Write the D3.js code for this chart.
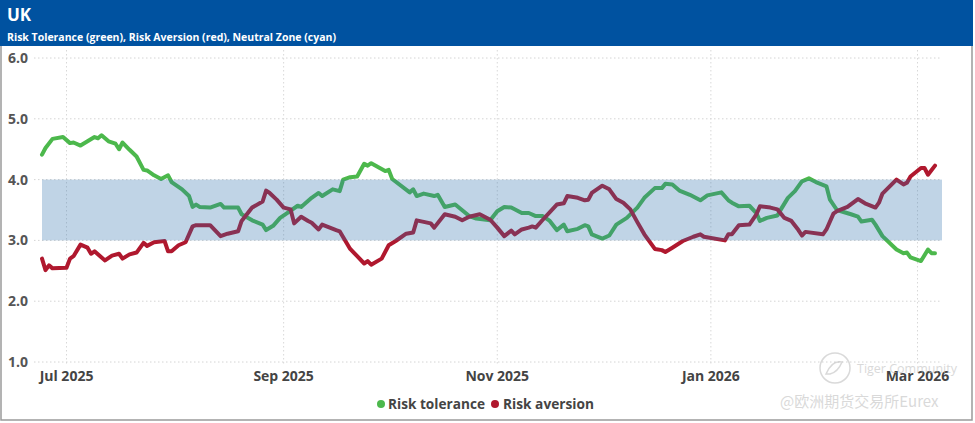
<!DOCTYPE html>
<html><head><meta charset="utf-8">
<script src="https://cdn.jsdelivr.net/npm/d3@7"></script>
<style>
html,body{margin:0;padding:0;background:#fff;}
svg{display:block;font-family:"Open Sans","Noto Sans",sans-serif;}
</style></head>
<body><svg id="c" width="975" height="423"></svg>
<script>
const title = "UK";
const subtitle = "Risk Tolerance (green), Risk Aversion (red), Neutral Zone (cyan)";
const yTicks = [1.0, 2.0, 3.0, 4.0, 5.0, 6.0];
const xTickDates = ["2025-07-01","2025-09-01","2025-11-01","2026-01-01","2026-03-01"];
const xTickLabels = ["Jul 2025","Sep 2025","Nov 2025","Jan 2026","Mar 2026"];
const neutralZone = [3.0, 4.0];
const xDomain = ["2025-06-24","2026-03-08"];
const seriesNames = ["Risk tolerance","Risk aversion"];

const toleranceDates = ["2025-06-24","2025-06-25","2025-06-27","2025-06-30","2025-07-02","2025-07-03","2025-07-05","2025-07-07","2025-07-09","2025-07-10","2025-07-11","2025-07-13","2025-07-15","2025-07-16","2025-07-17","2025-07-19","2025-07-21","2025-07-23","2025-07-24","2025-07-26","2025-07-28","2025-07-30","2025-07-31","2025-08-03","2025-08-05","2025-08-06","2025-08-07","2025-08-08","2025-08-11","2025-08-14","2025-08-15","2025-08-19","2025-08-20","2025-08-23","2025-08-26","2025-08-27","2025-08-29","2025-08-31","2025-09-02","2025-09-05","2025-09-06","2025-09-09","2025-09-11","2025-09-12","2025-09-15","2025-09-17","2025-09-18","2025-09-20","2025-09-22","2025-09-24","2025-09-25","2025-09-26","2025-09-30","2025-10-01","2025-10-02","2025-10-07","2025-10-08","2025-10-09","2025-10-11","2025-10-14","2025-10-15","2025-10-17","2025-10-20","2025-10-24","2025-10-26","2025-10-30","2025-11-01","2025-11-03","2025-11-05","2025-11-08","2025-11-10","2025-11-12","2025-11-14","2025-11-16","2025-11-18","2025-11-20","2025-11-21","2025-11-24","2025-11-26","2025-11-27","2025-11-28","2025-12-01","2025-12-03","2025-12-05","2025-12-08","2025-12-11","2025-12-13","2025-12-16","2025-12-18","2025-12-19","2025-12-21","2025-12-23","2025-12-26","2025-12-29","2025-12-31","2026-01-04","2026-01-06","2026-01-07","2026-01-09","2026-01-12","2026-01-14","2026-01-15","2026-01-17","2026-01-20","2026-01-21","2026-01-23","2026-01-25","2026-01-27","2026-01-29","2026-01-31","2026-02-03","2026-02-04","2026-02-06","2026-02-10","2026-02-12","2026-02-13","2026-02-16","2026-02-17","2026-02-19","2026-02-23","2026-02-25","2026-02-26","2026-02-27","2026-03-02","2026-03-04","2026-03-05","2026-03-06"];
const toleranceValues = [4.41,4.52,4.67,4.70,4.60,4.61,4.56,4.63,4.70,4.68,4.73,4.63,4.59,4.50,4.61,4.49,4.38,4.16,4.15,4.07,4.01,4.07,3.96,3.84,3.73,3.55,3.59,3.55,3.54,3.60,3.54,3.54,3.43,3.33,3.26,3.17,3.24,3.37,3.45,3.57,3.55,3.70,3.78,3.73,3.84,3.81,4.00,4.04,4.05,4.26,4.23,4.27,4.14,4.16,4.01,3.79,3.84,3.73,3.77,3.73,3.75,3.55,3.59,3.40,3.36,3.33,3.48,3.55,3.54,3.45,3.45,3.40,3.40,3.32,3.17,3.26,3.15,3.19,3.25,3.23,3.10,3.03,3.08,3.26,3.37,3.54,3.70,3.86,3.86,3.93,3.92,3.82,3.75,3.66,3.74,3.79,3.66,3.62,3.56,3.57,3.45,3.32,3.37,3.41,3.51,3.70,3.81,3.97,4.02,3.96,3.89,3.67,3.50,3.43,3.39,3.31,3.34,3.26,3.07,2.85,2.79,2.80,2.72,2.66,2.85,2.79,2.79];

const aversionDates = ["2025-06-24","2025-06-25","2025-06-26","2025-06-27","2025-07-01","2025-07-02","2025-07-03","2025-07-05","2025-07-07","2025-07-08","2025-07-09","2025-07-12","2025-07-14","2025-07-16","2025-07-17","2025-07-19","2025-07-21","2025-07-23","2025-07-24","2025-07-26","2025-07-29","2025-07-30","2025-07-31","2025-08-02","2025-08-04","2025-08-06","2025-08-07","2025-08-11","2025-08-14","2025-08-16","2025-08-19","2025-08-20","2025-08-23","2025-08-26","2025-08-27","2025-08-28","2025-08-30","2025-09-01","2025-09-03","2025-09-04","2025-09-06","2025-09-08","2025-09-09","2025-09-11","2025-09-12","2025-09-16","2025-09-17","2025-09-20","2025-09-22","2025-09-24","2025-09-25","2025-09-26","2025-09-29","2025-10-01","2025-10-03","2025-10-06","2025-10-08","2025-10-09","2025-10-13","2025-10-14","2025-10-17","2025-10-20","2025-10-22","2025-10-24","2025-10-27","2025-10-30","2025-11-01","2025-11-03","2025-11-05","2025-11-06","2025-11-08","2025-11-10","2025-11-11","2025-11-12","2025-11-14","2025-11-18","2025-11-20","2025-11-21","2025-11-24","2025-11-26","2025-11-27","2025-11-28","2025-12-01","2025-12-03","2025-12-05","2025-12-07","2025-12-09","2025-12-11","2025-12-13","2025-12-16","2025-12-18","2025-12-19","2025-12-21","2025-12-24","2025-12-27","2025-12-29","2025-12-30","2026-01-05","2026-01-06","2026-01-07","2026-01-09","2026-01-12","2026-01-14","2026-01-15","2026-01-18","2026-01-20","2026-01-22","2026-01-24","2026-01-26","2026-01-27","2026-01-28","2026-02-02","2026-02-03","2026-02-05","2026-02-06","2026-02-09","2026-02-12","2026-02-14","2026-02-17","2026-02-18","2026-02-19","2026-02-23","2026-02-25","2026-02-26","2026-02-27","2026-03-02","2026-03-03","2026-03-04","2026-03-06"];
const aversionValues = [2.70,2.51,2.59,2.54,2.55,2.70,2.74,2.93,2.88,2.78,2.82,2.67,2.75,2.78,2.70,2.77,2.80,2.96,2.91,2.97,2.99,2.82,2.82,2.92,2.97,3.23,3.25,3.25,3.07,3.11,3.15,3.32,3.54,3.64,3.82,3.78,3.67,3.54,3.51,3.28,3.39,3.32,3.29,3.18,3.26,3.17,3.15,2.86,2.74,2.62,2.66,2.60,2.70,2.92,2.99,3.11,3.13,3.33,3.28,3.21,3.43,3.39,3.33,3.39,3.43,3.34,3.21,3.07,3.16,3.10,3.18,3.21,3.23,3.21,3.34,3.59,3.61,3.73,3.70,3.66,3.67,3.78,3.90,3.84,3.68,3.62,3.51,3.30,3.10,2.86,2.84,2.81,2.88,2.99,3.06,3.10,3.06,3.00,3.10,3.10,3.25,3.26,3.43,3.56,3.54,3.51,3.37,3.32,3.17,3.08,3.14,3.10,3.18,3.44,3.48,3.55,3.68,3.61,3.54,3.62,3.77,4.00,3.92,3.95,4.05,4.19,4.19,4.08,4.23];

const parse = d3.timeParse("%Y-%m-%d");
const svg = d3.select("#c");

// frame + header
svg.append("rect").attr("x",1).attr("y",0).attr("width",971).attr("height",420)
  .attr("fill","#fff").attr("stroke","#9a9a9a").attr("stroke-width",1.5);
svg.append("rect").attr("x",0).attr("y",0).attr("width",973).attr("height",46).attr("fill","#0052a0");
svg.append("text").attr("x",7).attr("y",21).attr("fill","#fff").attr("font-size",17).attr("font-weight",700).text(title);
svg.append("text").attr("x",7).attr("y",40.5).attr("fill","#fff").attr("font-size",10.5).attr("font-weight",700).text(subtitle);

const x = d3.scaleTime().domain(xDomain.map(parse)).range([42, 942]);
const y = d3.scaleLinear().domain([1, 6]).range([362, 58]);

// horizontal grid
svg.append("g").selectAll("line").data(yTicks).join("line")
  .attr("x1",34).attr("x2",942).attr("y1",d=>y(d)).attr("y2",d=>y(d))
  .attr("stroke","#d4d4d4").attr("stroke-width",1).attr("stroke-dasharray","1.5,2.5");
// vertical grid
svg.append("g").selectAll("line").data(xTickDates).join("line")
  .attr("x1",d=>x(parse(d))).attr("x2",d=>x(parse(d))).attr("y1",50).attr("y2",366)
  .attr("stroke","#d8d8d8").attr("stroke-width",1).attr("stroke-dasharray","1.5,2.5");

// y labels
svg.append("g").selectAll("text").data(yTicks).join("text")
  .attr("x",8).attr("y",d=>y(d)).attr("dy","0.35em")
  .attr("fill","#555").attr("font-size",14).attr("font-weight",700)
  .text(d=>d3.format(".1f")(d));
// x labels
svg.append("g").selectAll("text").data(xTickDates).join("text")
  .attr("x",d=>x(parse(d))).attr("y",381).attr("text-anchor","middle")
  .attr("fill","#444").attr("font-size",14).attr("font-weight",700)
  .text((d,i)=>xTickLabels[i]);

const line = d3.line().x(d=>x(d[0])).y(d=>y(d[1]));
const tol = toleranceDates.map((d,i)=>[parse(d), toleranceValues[i]]);
const av = aversionDates.map((d,i)=>[parse(d), aversionValues[i]]);
svg.append("path").datum(tol).attr("d",line).attr("fill","none")
  .attr("stroke","#4cb84c").attr("stroke-width",4).attr("stroke-linejoin","round").attr("stroke-linecap","round");
svg.append("path").datum(av).attr("d",line).attr("fill","none")
  .attr("stroke","#b0182e").attr("stroke-width",4).attr("stroke-linejoin","round").attr("stroke-linecap","round");

// neutral zone on top (semi transparent)
svg.append("rect").attr("x",x.range()[0]).attr("width",x.range()[1]-x.range()[0])
  .attr("y",y(neutralZone[1])).attr("height",y(neutralZone[0])-y(neutralZone[1]))
  .attr("fill","rgb(45,112,172)").attr("fill-opacity",0.3);

// legend
const lg = svg.append("g").attr("font-size",14).attr("font-weight",700).attr("fill","#444");
lg.append("circle").attr("cx",381).attr("cy",404).attr("r",4).attr("fill","#4cb84c");
lg.append("text").attr("x",388).attr("y",409).attr("textLength",97).attr("lengthAdjust","spacingAndGlyphs").text(seriesNames[0]);
lg.append("circle").attr("cx",495).attr("cy",404).attr("r",4).attr("fill","#b0182e");
lg.append("text").attr("x",503).attr("y",409).attr("textLength",91).attr("lengthAdjust","spacingAndGlyphs").text(seriesNames[1]);

// watermark
const wm = svg.append("g").attr("opacity",0.55);
wm.append("circle").attr("cx",835).attr("cy",368).attr("r",15).attr("fill","none").attr("stroke","#bbb").attr("stroke-width",1.5);
wm.append("path").attr("d","M826,374 q6,-14 16,-12 q-4,10 -12,12 z").attr("fill","none").attr("stroke","#bbb").attr("stroke-width",1.5);
wm.append("text").attr("x",857).attr("y",373).attr("font-size",12.5).attr("fill","#bbb").text("Tiger Community");
wm.append("text").attr("x",780).attr("y",407).attr("font-size",15).attr("fill","#bbb")
  .attr("font-family","'Noto Sans CJK SC',sans-serif").text("@欧洲期货交易所Eurex");
</script></body></html>
